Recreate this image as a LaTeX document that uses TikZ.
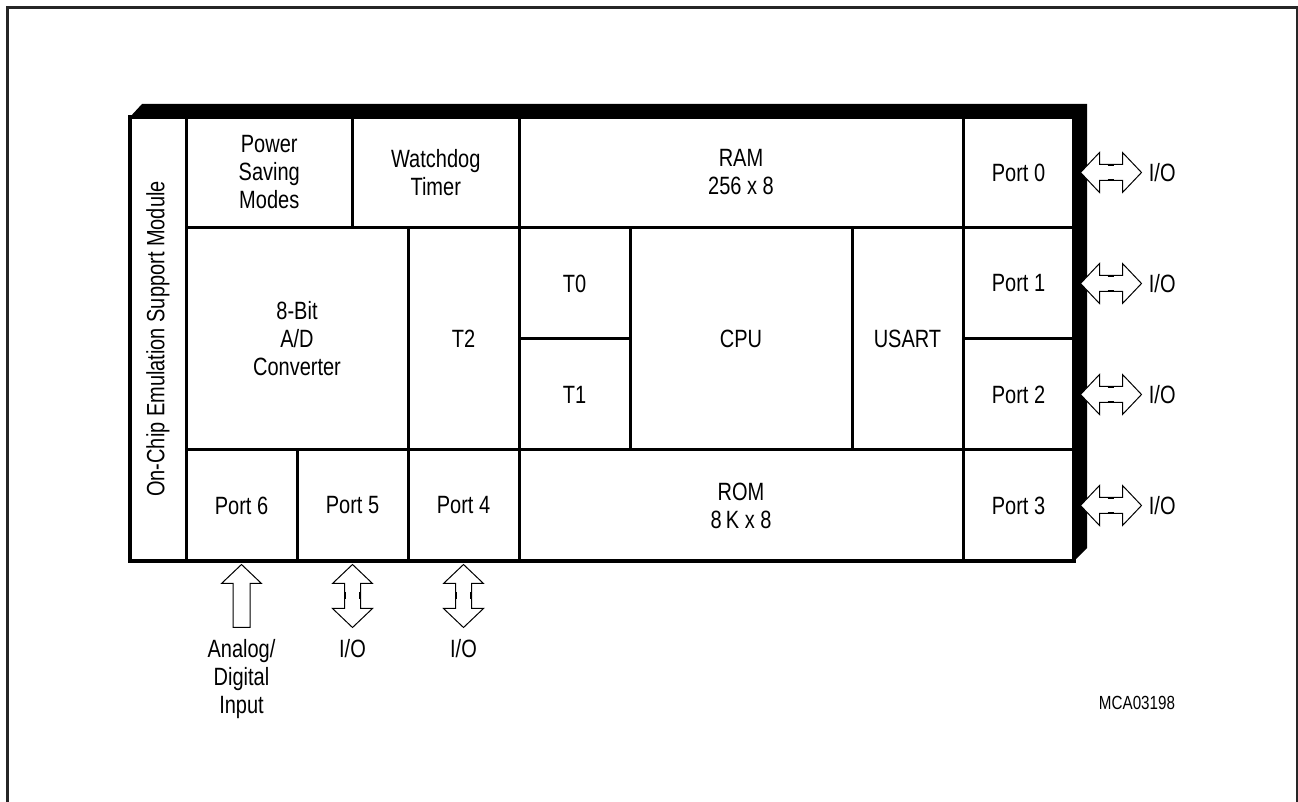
\documentclass[tikz,border=0pt]{standalone}
\usepackage{fontspec}
\setmainfont{Liberation Sans}[FakeStretch=0.8]
\usetikzlibrary{calc, positioning}
\newcommand{\blkfont}{\fontsize{12.5}{14}\selectfont}
\newcommand{\tagfont}{\fontsize{9.5}{11}\selectfont}
\tikzset{
	cell/.style n args={2}{draw, line width=1.5pt, minimum width=#1*0.5pt, minimum height=#2*0.5pt,
			inner sep=0pt, align=center, font=\blkfont}
}
\tikzset{
	lbl/.style={inner sep=0pt, align=center, font=\blkfont}
}
\tikzset{
	arrowline/.style={draw=black, fill=white, line width=0.5pt, line join=miter}
}
\tikzset{
	hdarrow/.pic={
			\draw[arrowline] (0,0) -- (19,-20) -- (19,-8) -- (42,-8) -- (42,-20) --
			(61,0) -- (42,20) -- (42,8) -- (19,8) -- (19,20) -- cycle;
			\draw[line width=0.9pt] (27,-7) -- (33,-7) (27,7) -- (33,7);
		},
	vdarrow/.pic={
			\draw[arrowline] (0,0) -- (20,19) -- (8,19) -- (8,44) -- (20,44) --
			(0,63) -- (-20,44) -- (-8,44) -- (-8,19) -- (-20,19) -- cycle;
			\draw[line width=0.9pt] (-7,28) -- (-7,35) (7,28) -- (7,35);
		},
	uparrow/.pic={
			\draw[arrowline] (0,0) -- (20,19) -- (8.5,19) -- (8.5,63) -- (-8.5,63) --
			(-8.5,19) -- (-20,19) -- cycle;
		}
}
\begin{document}
\begin{tikzpicture}[x=0.5pt, y=-0.5pt]

	\useasboundingbox (0,0) rectangle (1298,802);
	\draw[line width=1.2pt, black!85] (7.5,7.5) rectangle (1297,830);

	% box with its dark depth
	\fill[black] (130,117) -- (142,104) -- (1087,104) -- (1087,548) -- (1074,561) -- (1074,117) -- cycle;
	\draw[line width=2pt] (130,117) rectangle (1074,561);

	\node[cell={444}{56}, rotate=90] (ocesm) at (158,339) {On-Chip Emulation Support Module};

	\node[cell={166.5}{111}] (psm) at (269.25,172.5) {Power\\Saving\\Modes};
	\node[cell={166.5}{111}] (wdt) at (435.75,172.5) {Watchdog\\Timer};
	\node[cell={444}{111}] (ram) at (741,172.5) {RAM\\256 x 8};
	\node[cell={111}{111}] (p0) at (1018.5,172.5) {Port 0};

	\node[cell={222}{222}] (adc) at (297,339) {8-Bit\\A/D\\Converter};
	\node[cell={111}{222}] (t2) at (463.5,339) {T2};
	\node[cell={111}{111}] (t0) at (574.5,283.5) {T0};
	\node[cell={111}{111}] (t1) at (574.5,394.5) {T1};
	\node[cell={222}{222}] (cpu) at (741,339) {CPU};
	\node[cell={111}{222}] (usart) at (907.5,339) {USART};
	\node[cell={111}{111}] (p1) at (1018.5,283.5) {Port 1};
	\node[cell={111}{111}] (p2) at (1018.5,394.5) {Port 2};

	\node[cell={111}{111}] (p6) at (241.5,505.5) {Port 6};
	\node[cell={111}{111}] (p5) at (352.5,505.5) {Port 5};
	\node[cell={111}{111}] (p4) at (463.5,505.5) {Port 4};
	\node[cell={444}{111}] (rom) at (741,505.5) {ROM\\8\,K x 8};
	\node[cell={111}{111}] (p3) at (1018.5,505.5) {Port 3};

	% port arrows
	\foreach \p in {p0,p1,p2,p3} {
			\pic at ($(\p.east)+(5,0)$) {hdarrow};
			\node[lbl, anchor=west] (io-\p) at ($(\p.east)+(73,0)$) {I/O};
		}

	\pic at ($(p6.south)+(0,2)$) {uparrow};
	\pic at ($(p5.south)+(0,2)$) {vdarrow};
	\pic at ($(p4.south)+(0,2)$) {vdarrow};

	\node[lbl, anchor=north] (adin) at ($(p6.south)+(0,76)$) {Analog/\\Digital\\Input};
	\node[lbl, anchor=north] (io-p5) at ($(p5.south)+(0,76)$) {I/O};
	\node[lbl, anchor=north] (io-p4) at ($(p4.south)+(0,76)$) {I/O};

	\node[inner sep=0pt, font=\tagfont] (tag) at (1137,703) {MCA03198};

\end{tikzpicture}
\end{document}
